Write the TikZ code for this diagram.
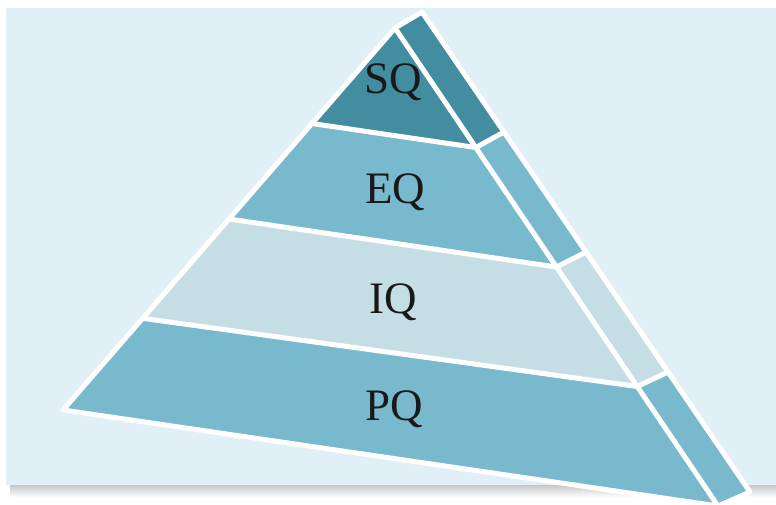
\documentclass[tikz,border=0pt]{standalone}
\usepackage{fontspec}
\setmainfont{Liberation Serif}
\usetikzlibrary{calc}
\definecolor{backblue}{HTML}{E1EFF6}
\definecolor{darkteal}{HTML}{438DA0}
\definecolor{midteal}{HTML}{79B9CE}
\definecolor{paleteal}{HTML}{C5DEE6}
\tikzset{
	edge/.style={draw=white,line width=5pt,line join=round},
	label/.style={font=\fontsize{45}{45}\selectfont,text=black!90,inner sep=0pt}
}
\begin{document}
\begin{tikzpicture}[x=1pt,y=-1pt]
			\useasboundingbox (0,0) rectangle (776,504);
			\clip (0,0) rectangle (776,504);
			
			\shade[top color=black!22,bottom color=white] (10,485) rectangle (776,497);
			\fill[backblue] (6,8) rectangle (776,485);
			
			\coordinate (apex) at (395,28);
			\coordinate (bl) at (63,410);
			\coordinate (br) at (718,506);
			\coordinate (ot) at (422,12);
			\coordinate (ob) at (750,492);
			
			\coordinate (l1) at ($(apex)!0.25!(bl)$);
			\coordinate (l2) at ($(apex)!0.5!(bl)$);
			\coordinate (l3) at ($(apex)!0.76!(bl)$);
			\coordinate (r1) at ($(apex)!0.25!(br)$);
			\coordinate (r2) at ($(apex)!0.5!(br)$);
			\coordinate (r3) at ($(apex)!0.75!(br)$);
			\coordinate (o1) at ($(ot)!0.25!(ob)$);
			\coordinate (o2) at ($(ot)!0.5!(ob)$);
			\coordinate (o3) at ($(ot)!0.75!(ob)$);
			
			\fill[darkteal] (apex) -- (l1) -- (r1) -- cycle;
			\fill[midteal] (l1) -- (l2) -- (r2) -- (r1) -- cycle;
			\fill[paleteal] (l2) -- (l3) -- (r3) -- (r2) -- cycle;
			\fill[midteal] (l3) -- (bl) -- (br) -- (r3) -- cycle;
			
			\fill[darkteal] (apex) -- (ot) -- (o1) -- (r1) -- cycle;
			\fill[midteal] (r1) -- (o1) -- (o2) -- (r2) -- cycle;
			\fill[paleteal] (r2) -- (o2) -- (o3) -- (r3) -- cycle;
			\fill[midteal] (r3) -- (o3) -- (ob) -- (br) -- cycle;
			
			\draw[edge] (apex) -- (bl) -- (br) -- cycle;
			\draw[edge] (apex) -- (ot) -- (ob) -- (br);
			\draw[edge] (l1) -- (r1) -- (o1);
			\draw[edge] (l2) -- (r2) -- (o2);
			\draw[edge] (l3) -- (r3) -- (o3);
			
			\node[label] (sq) at (393,82) {SQ};
			\node[label] (eq) at (395,192) {EQ};
			\node[label] (iq) at (393,302) {IQ};
			\node[label] (pq) at (394,409) {PQ};
		\end{tikzpicture}
\end{document}
